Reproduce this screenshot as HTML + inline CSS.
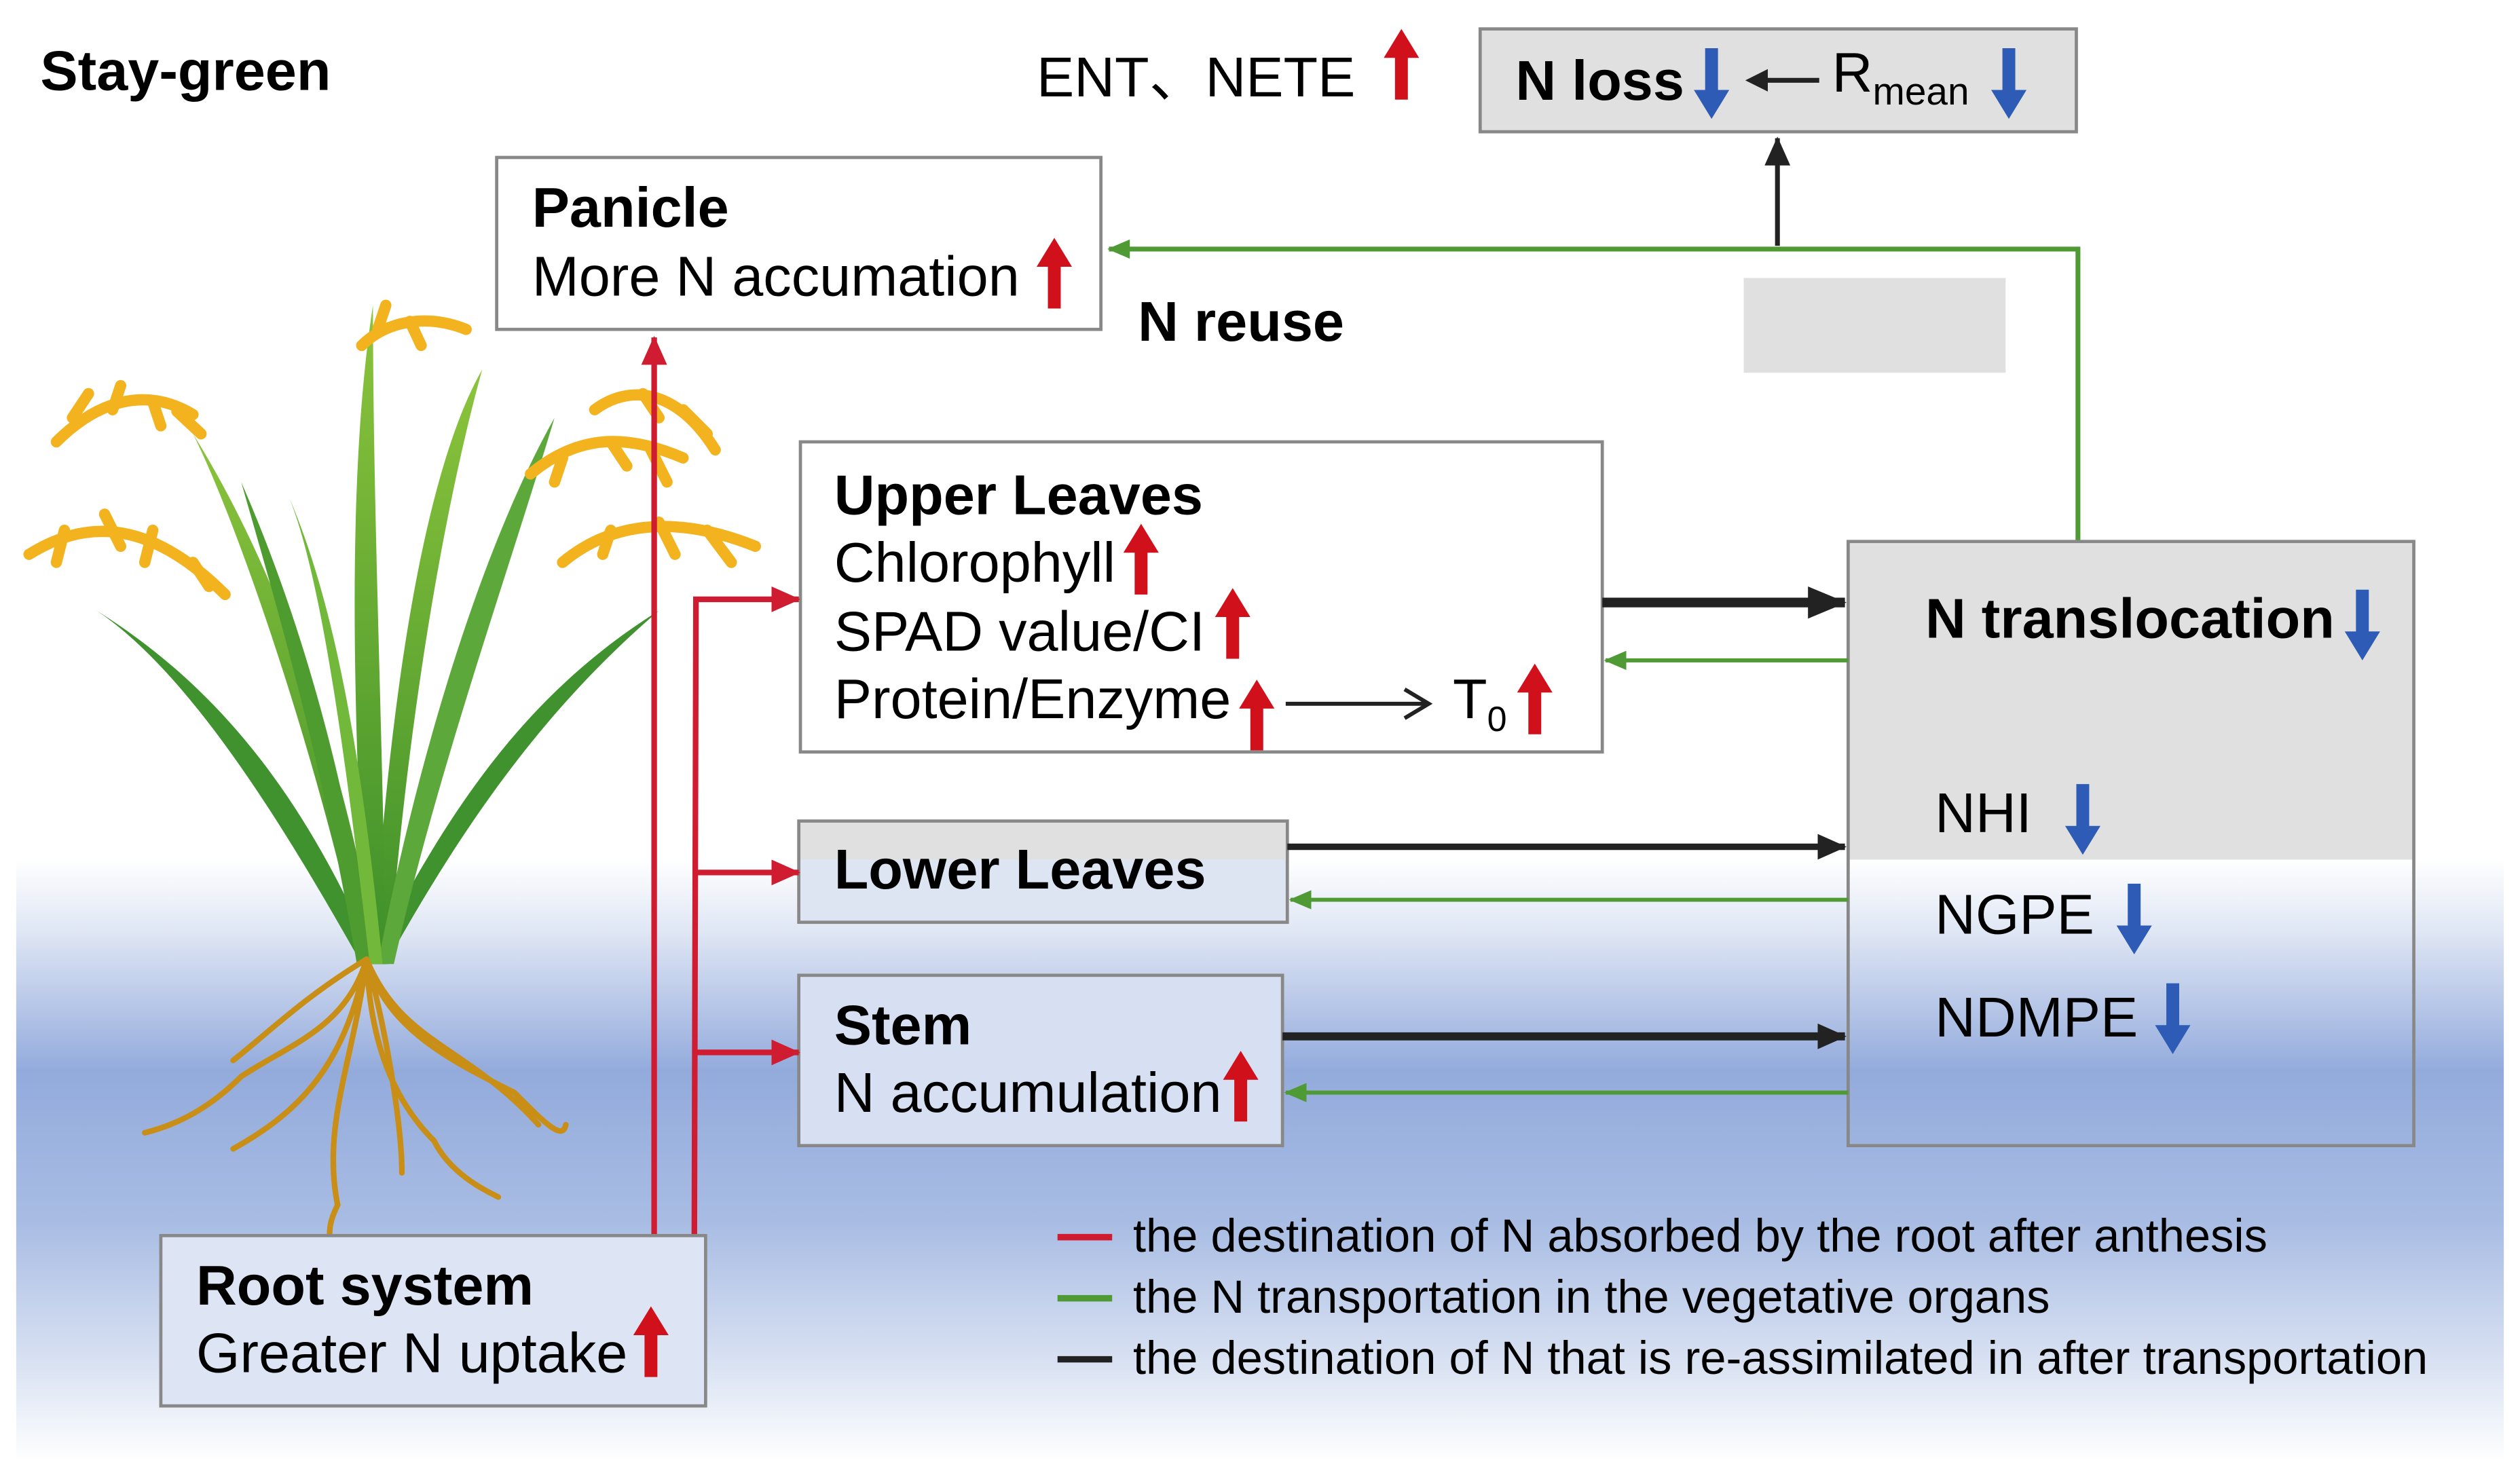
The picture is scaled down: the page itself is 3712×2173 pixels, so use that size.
<!DOCTYPE html>
<html><head><meta charset="utf-8"><style>
html,body{margin:0;padding:0;background:#fff}
svg{display:block}
text{font-family:"Liberation Sans",Arial,sans-serif;fill:#000}
.b{font-weight:bold}
</style></head><body>
<svg width="3712" height="2173" viewBox="0 0 1568 918" xmlns="http://www.w3.org/2000/svg">
<defs>
<linearGradient id="bg" x1="0" y1="0" x2="0" y2="1">
<stop offset="0" stop-color="#ffffff"/>
<stop offset="0.12" stop-color="#dfe6f4"/>
<stop offset="0.35" stop-color="#93abdc"/>
<stop offset="0.6" stop-color="#a8bce3"/>
<stop offset="0.85" stop-color="#dce4f3"/>
<stop offset="1" stop-color="#ffffff"/>
</linearGradient>
<linearGradient id="leaf" x1="0" y1="0" x2="0" y2="1">
<stop offset="0" stop-color="#8cc43c"/><stop offset="1" stop-color="#3d8f2a"/>
</linearGradient>
<marker id="ag" markerWidth="14" markerHeight="12" refX="13" refY="6" orient="auto" markerUnits="userSpaceOnUse"><path d="M0,0 L14,6 L0,12z" fill="#4f9a34"/></marker>
<marker id="ak" markerWidth="24" markerHeight="20" refX="23" refY="10" orient="auto" markerUnits="userSpaceOnUse"><path d="M0,0 L24,10 L0,20z" fill="#222"/></marker>
<marker id="ak2" markerWidth="18" markerHeight="16" refX="17" refY="8" orient="auto" markerUnits="userSpaceOnUse"><path d="M0,0 L18,8 L0,16z" fill="#222"/></marker>
<marker id="ar2" markerWidth="18" markerHeight="16" refX="17" refY="8" orient="auto" markerUnits="userSpaceOnUse"><path d="M0,0 L18,8 L0,16z" fill="#d01c30"/></marker>
<g id="up"><path d="M-4,0 L-4,-26 L-11,-26 L0,-44 L11,-26 L4,-26 L4,0z" fill="#d0111c"/></g>
<g id="dn"><path d="M-4,0 L-4,26 L-11,26 L0,44 L11,26 L4,26 L4,0z" fill="#2e5bb5"/></g>
</defs>
<rect x="10" y="535" width="1548" height="375" fill="url(#bg)"/>

<text x="25" y="56" class="b" font-size="35">Stay-green</text>
<text x="645" y="60" font-size="35" font-family="Liberation Sans, Noto Sans CJK SC, sans-serif">ENT、NETE</text>
<use href="#up" x="872" y="62"/>

<rect x="921" y="18" width="371" height="64" fill="#e0e0e0" stroke="#888" stroke-width="2"/>
<text x="943" y="62" class="b" font-size="35">N loss</text>
<use href="#dn" x="1065" y="30"/>
<line x1="1132" y1="50" x2="1090" y2="50" stroke="#222" stroke-width="3"/>
<path d="M1086,50 L1100,43 L1100,57z" fill="#222"/>
<text x="1140" y="57" font-size="35">R<tspan font-size="24" dy="8">mean</tspan></text>
<use href="#dn" x="1250" y="30"/>

<rect x="309" y="98" width="376" height="107" fill="#fff" stroke="#888" stroke-width="2"/>
<text x="331" y="141" class="b" font-size="35">Panicle</text>
<text x="331" y="184" font-size="35">More N accumation</text>
<use href="#up" x="656" y="192"/>
<text x="708" y="212" class="b" font-size="35">N reuse</text>
<rect x="1085" y="173" width="163" height="59" fill="#e0e0e0"/>

<polyline points="1293,337 1293,155 690,155" fill="none" stroke="#4f9a34" stroke-width="3" marker-end="url(#ag)"/>
<line x1="1106" y1="153" x2="1106" y2="86" stroke="#222" stroke-width="3" marker-end="url(#ak2)"/>

<!-- plant -->
<g>
<path d="M225,600 C180,520 120,420 60,380 C140,430 190,500 230,590z" fill="#3f922d"/>
<path d="M230,600 C280,500 330,430 410,380 C340,440 290,510 240,600z" fill="#3f922d"/>
<path d="M225,600 C200,480 150,330 120,270 C170,350 215,470 235,600z" fill="url(#leaf)"/>
<path d="M232,600 C240,460 260,300 300,230 C275,320 252,460 242,600z" fill="url(#leaf)"/>
<path d="M228,600 C220,450 215,300 232,190 C232,320 238,450 240,600z" fill="url(#leaf)"/>
<path d="M235,600 C260,470 300,340 345,260 C315,360 272,480 245,600z" fill="#5da83a"/>
<path d="M222,600 C200,470 170,370 150,300 C185,380 215,480 232,600z" fill="#4e9c30"/>
<path d="M230,600 C215,470 200,360 180,310 C210,380 226,480 238,600z" fill="#72b83a"/>
<g fill="none" stroke="#f2b31f" stroke-width="7" stroke-linecap="round">
<path d="M35,275 C60,250 90,240 120,258"/><path d="M45,260 L55,245 M70,255 L75,240 M95,250 L100,265 M110,256 L125,270"/>
<path d="M18,345 C50,325 90,320 140,370"/><path d="M40,330 L35,350 M65,320 L75,340 M95,330 L90,350 M120,350 L130,365"/>
<path d="M225,215 C240,200 265,195 290,205"/><path d="M235,205 L240,190 M255,200 L262,215"/>
<path d="M330,295 C360,270 390,270 425,285"/><path d="M350,285 L345,300 M380,275 L390,290 M405,280 L415,300"/>
<path d="M370,255 C390,240 420,240 445,280"/><path d="M400,245 L410,260 M425,255 L440,270"/>
<path d="M350,350 C380,325 420,320 470,340"/><path d="M380,330 L375,345 M410,325 L420,345 M440,330 L455,350"/>
</g>
<g fill="none" stroke="#c88e16" stroke-width="3.5" stroke-linecap="round">
<path d="M228,597 C215,640 180,650 150,670 C130,690 110,700 90,705"/>
<path d="M228,597 C230,640 240,680 270,710 C280,730 300,740 310,745"/>
<path d="M228,597 C240,640 280,660 320,680 C340,700 350,710 352,700"/>
<path d="M228,597 C220,660 200,700 210,750 C205,760 205,765 205,770"/>
<path d="M228,597 C190,620 170,640 145,660 M228,597 C250,650 290,650 335,700"/>
<path d="M228,597 C215,660 190,690 145,715 M228,597 C240,640 250,700 250,730"/>
</g>
</g>

<!-- upper leaves -->
<rect x="498" y="275" width="499" height="193" fill="#fff" stroke="#888" stroke-width="2"/>
<text x="519" y="320" class="b" font-size="35">Upper Leaves</text>
<text x="519" y="362" font-size="35">Chlorophyll</text>
<use href="#up" x="710" y="370"/>
<text x="519" y="405" font-size="35">SPAD value/CI</text>
<use href="#up" x="767" y="410"/>
<text x="519" y="447" font-size="35">Protein/Enzyme</text>
<use href="#up" x="782" y="467"/>
<line x1="800" y1="438" x2="888" y2="438" stroke="#222" stroke-width="2.5"/>
<path d="M874,429 L889,438 L874,447" fill="none" stroke="#222" stroke-width="2.5"/>
<text x="904" y="447" font-size="35">T<tspan font-size="22" dy="8">0</tspan></text>
<use href="#up" x="955" y="457"/>

<!-- lower leaves -->
<rect x="497" y="511" width="304" height="63" fill="#dde5f3" stroke="#888" stroke-width="2"/>
<rect x="498" y="512" width="302" height="23" fill="#e0e0e0"/>
<text x="519" y="553" class="b" font-size="35">Lower Leaves</text>

<!-- stem -->
<rect x="497" y="607" width="301" height="106" fill="#d7e0f3" stroke="#888" stroke-width="2"/>
<text x="519" y="650" class="b" font-size="35">Stem</text>
<text x="519" y="692" font-size="35">N accumulation</text>
<use href="#up" x="772" y="698"/>

<!-- N translocation -->
<rect x="1150" y="337" width="352" height="198" fill="#e0e0e0"/>
<rect x="1150" y="337" width="352" height="376" fill="none" stroke="#888" stroke-width="2"/>
<text x="1198" y="397" class="b" font-size="35">N translocation</text>
<use href="#dn" x="1470" y="367"/>
<text x="1204" y="518" font-size="35">NHI</text>
<use href="#dn" x="1296" y="488"/>
<text x="1204" y="581" font-size="35">NGPE</text>
<use href="#dn" x="1328" y="550"/>
<text x="1204" y="645" font-size="35">NDMPE</text>
<use href="#dn" x="1352" y="612"/>

<!-- connectors -->
<line x1="997" y1="375" x2="1148" y2="375" stroke="#222" stroke-width="6" marker-end="url(#ak)"/>
<line x1="801" y1="527" x2="1148" y2="527" stroke="#222" stroke-width="4" marker-end="url(#ak2)"/>
<line x1="798" y1="645" x2="1148" y2="645" stroke="#222" stroke-width="5" marker-end="url(#ak2)"/>
<line x1="1150" y1="411" x2="999" y2="411" stroke="#4f9a34" stroke-width="2.5" marker-end="url(#ag)"/>
<line x1="1150" y1="560" x2="803" y2="560" stroke="#4f9a34" stroke-width="2.5" marker-end="url(#ag)"/>
<line x1="1150" y1="680" x2="800" y2="680" stroke="#4f9a34" stroke-width="2.5" marker-end="url(#ag)"/>

<line x1="407" y1="770" x2="407" y2="210" stroke="#d01c30" stroke-width="3.5" marker-end="url(#ar2)"/>
<polyline points="432,770 433,373 497,373" fill="none" stroke="#d01c30" stroke-width="3.5" marker-end="url(#ar2)"/>
<line x1="433" y1="543" x2="497" y2="543" stroke="#d01c30" stroke-width="3.5" marker-end="url(#ar2)"/>
<line x1="433" y1="655" x2="497" y2="655" stroke="#d01c30" stroke-width="3.5" marker-end="url(#ar2)"/>

<!-- root box -->
<rect x="100" y="769" width="339" height="106" fill="#dde5f4" stroke="#888" stroke-width="2"/>
<text x="122" y="812" class="b" font-size="35">Root system</text>
<text x="122" y="854" font-size="35">Greater N uptake</text>
<use href="#up" x="405" y="857"/>

<!-- legend -->
<line x1="658" y1="770" x2="692" y2="770" stroke="#d01c30" stroke-width="4"/>
<line x1="658" y1="808" x2="692" y2="808" stroke="#4f9a34" stroke-width="4"/>
<line x1="658" y1="846" x2="692" y2="846" stroke="#222" stroke-width="4"/>
<text x="705" y="779" font-size="29">the destination of N absorbed by the root after anthesis</text>
<text x="705" y="817" font-size="29">the N transportation in the vegetative organs</text>
<text x="705" y="855" font-size="29">the destination of N that is re-assimilated in after transportation</text>
</svg>
</body></html>
